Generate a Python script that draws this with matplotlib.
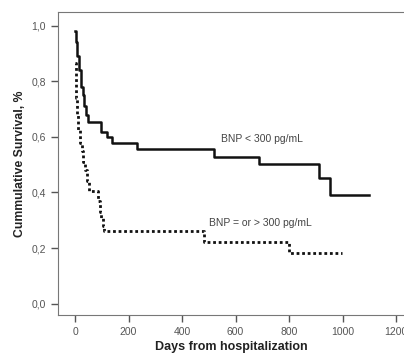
import numpy as np
import matplotlib.pyplot as plt

# Kaplan-Meier step data (days, survival)
low_days = [0, 3, 8, 15, 21, 28, 34, 41, 49, 97, 118, 139, 231, 521, 688, 911, 953, 1099]
low_surv = [0.98, 0.94, 0.89, 0.84, 0.78, 0.75, 0.71, 0.68, 0.654, 0.618, 0.600,
            0.577, 0.556, 0.528, 0.502, 0.453, 0.391, 0.391]

high_days = [0, 2, 5, 8, 12, 17, 25, 30, 36, 44, 52, 86, 92, 97, 104, 109, 481, 801, 999]
high_surv = [0.866, 0.80, 0.74, 0.68, 0.625, 0.578, 0.55, 0.51, 0.48, 0.44, 0.406,
             0.37, 0.33, 0.308, 0.28, 0.262, 0.222, 0.181, 0.181]

xticks = [0, 200, 400, 600, 800, 1000, 1200]
yticks = [0.0, 0.2, 0.4, 0.6, 0.8, 1.0]

plt.rcParams['font.family'] = ['Liberation Sans', 'DejaVu Sans']

fig = plt.figure(figsize=(4.04, 3.54), dpi=100)
ax = fig.add_axes([58 / 404, 1 - 315 / 354, 1 - 58 / 404, (315 - 12) / 354])

ax.plot(low_days, low_surv, drawstyle='steps-post', color='#111111', lw=1.8)
ax.plot(high_days, high_surv, drawstyle='steps-post', color='#111111', lw=2.0,
        linestyle=(0, (1, 1)))

ax.text(546, 0.591, 'BNP < 300 pg/mL', fontsize=7.5, color='#444444', va='center')
ax.text(501, 0.289, 'BNP = or > 300 pg/mL', fontsize=7.5, color='#444444', va='center')

ax.set_xlim(-64, 1230)
ax.set_ylim(-0.041, 1.049)
ax.set_xticks(xticks)
ax.set_xticklabels([str(t) for t in xticks])
ax.set_yticks(yticks)
ax.set_yticklabels([f'{t:.1f}'.replace('.', ',') for t in yticks])
ax.tick_params(length=5, width=1, color='#555555', labelsize=7.5, labelcolor='#555555')

for s in ['top', 'left', 'bottom']:
    ax.spines[s].set_color('#777777')
ax.spines['right'].set_visible(False)

ax.set_xlabel('Days from hospitalization', fontsize=9, fontweight='bold', color='#222222',
              labelpad=3)
ax.set_ylabel('Cummulative Survival, %', fontsize=8.8, fontweight='bold', color='#222222',
              labelpad=4)

fig.savefig('out.png', dpi=100)
